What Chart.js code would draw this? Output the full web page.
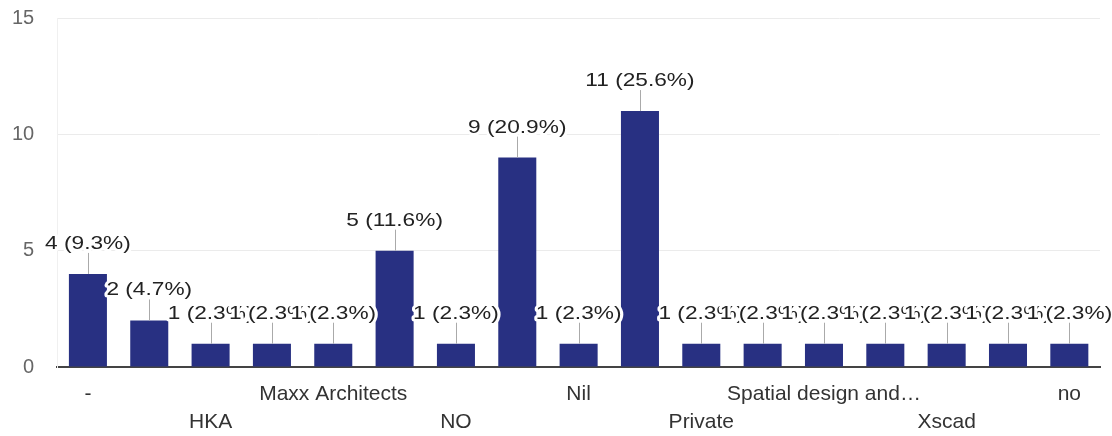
<!DOCTYPE html>
<html>
<head>
<meta charset="utf-8">
<script src="https://cdn.jsdelivr.net/npm/chart.js@4.4.0/dist/chart.umd.min.js"></script>
<style>
  html, body { margin: 0; padding: 0; background: #fff; }
  #wrap { width: 1112px; height: 436px; }
</style>
</head>
<body>
<div id="wrap"><canvas id="responsesChart"></canvas></div>
<script>
// answers as shown on the axis; blank ones are not labelled in the source
const categories = ['-', '', 'HKA', '', 'Maxx Architects', '', 'NO', '', 'Nil', '',
  'Private', '', 'Spatial design and\u2026', '', 'Xscad', '', 'no'];
const counts = [4, 2, 1, 1, 1, 5, 1, 9, 1, 11, 1, 1, 1, 1, 1, 1, 1];
const percents = ['9.3%', '4.7%', '2.3%', '2.3%', '2.3%', '11.6%', '2.3%', '20.9%', '2.3%',
  '25.6%', '2.3%', '2.3%', '2.3%', '2.3%', '2.3%', '2.3%', '2.3%'];
const yTicks = [0, 5, 10, 15];

// value labels with a short leader line above each bar
const barLabels = {
  id: 'barLabels',
  afterDatasetsDraw(chart) {
    const ctx = chart.ctx;
    const bars = chart.getDatasetMeta(0).data;
    ctx.save();
    ctx.strokeStyle = '#aaa';
    ctx.lineWidth = 1;
    bars.forEach(bar => {
      ctx.beginPath();
      ctx.moveTo(Math.round(bar.x) + 0.5, bar.y);
      ctx.lineTo(Math.round(bar.x) + 0.5, bar.y - 21);
      ctx.stroke();
    });
    ctx.font = '18px "Liberation Sans", Arial, sans-serif';
    ctx.textAlign = 'center';
    ctx.textBaseline = 'alphabetic';
    ctx.lineJoin = 'round';
    bars.forEach((bar, i) => {
      const txt = counts[i] + ' (' + percents[i] + ')';
      ctx.save();
      ctx.translate(bar.x, bar.y - 25);
      ctx.scale(1.26, 1);
      ctx.strokeStyle = '#fff';
      ctx.lineWidth = 5;
      ctx.strokeText(txt, 0, 0);
      ctx.fillStyle = '#222';
      ctx.fillText(txt, 0, 0);
      ctx.restore();
    });
    ctx.restore();
  }
};

new Chart(document.getElementById('responsesChart'), {
  type: 'bar',
  data: {
    labels: categories,
    datasets: [{
      data: counts,
      backgroundColor: '#283082',
      barPercentage: 0.62,
      categoryPercentage: 1.0
    }]
  },
  options: {
    responsive: true,
    maintainAspectRatio: false,
    animation: false,
    layout: { padding: { top: 0, right: 12, left: -11, bottom: -5 } },
    plugins: {
      legend: { display: false },
      tooltip: { enabled: false }
    },
    scales: {
      x: {
        grid: { display: false },
        border: { color: '#444', width: 2 },
        ticks: {
          autoSkip: false,
          maxRotation: 0,
          color: '#333',
          padding: 5,
          font: { family: '"Liberation Sans", Arial, sans-serif', size: 21, lineHeight: '28px' },
          callback: (v, i) => (i % 4 === 2 ? ['', categories[i]] : categories[i])
        }
      },
      y: {
        min: 0,
        max: 15,
        afterBuildTicks: axis => { axis.ticks = yTicks.map(v => ({ value: v })); },
        afterFit: axis => { axis.paddingTop = 18; },
        border: { display: true, color: '#f0f0f0' },
        grid: { color: '#ebebeb', drawTicks: false },
        ticks: {
          color: '#666',
          padding: 23,
          font: { family: '"Liberation Sans", Arial, sans-serif', size: 20 }
        }
      }
    }
  },
  plugins: [barLabels]
});
</script>
</body>
</html>
